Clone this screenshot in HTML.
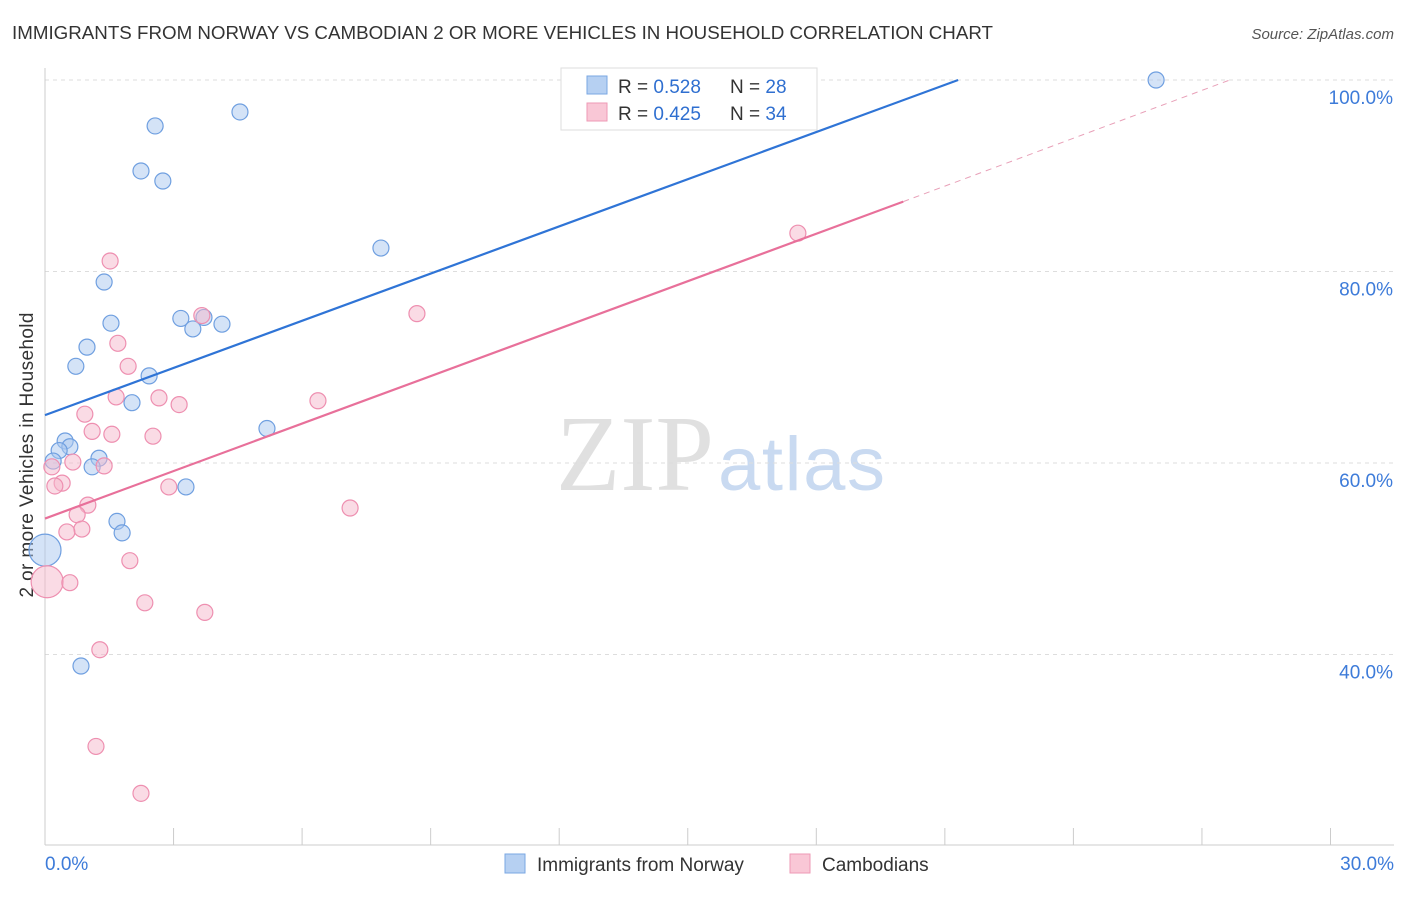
<!DOCTYPE html>
<html><head><meta charset="utf-8"><style>
body{margin:0;background:#fff;font-family:"Liberation Sans",sans-serif}
#c{position:relative;width:1406px;height:892px}
</style></head><body>
<div id="c">
<svg id="s" width="1406" height="892">
<text x="12" y="39" font-size="18" fill="#333" textLength="981" lengthAdjust="spacingAndGlyphs">IMMIGRANTS FROM NORWAY VS CAMBODIAN 2 OR MORE VEHICLES IN HOUSEHOLD CORRELATION CHART</text>
<text x="1394" y="39" font-size="15" fill="#555" font-style="italic" text-anchor="end">Source: ZipAtlas.com</text>
<text x="33" y="455" font-size="19" fill="#333" text-anchor="middle" transform="rotate(-90 33 455)" textLength="285">2 or more Vehicles in Household</text>
<text x="714" y="490" font-size="108" fill="#e0e0e0" text-anchor="end" font-family="Liberation Serif,serif" textLength="158" lengthAdjust="spacingAndGlyphs">ZIP</text>
<text x="718" y="490" font-size="76" fill="#c9daf1" textLength="167">atlas</text>
<g id="grid"></g><g id="marks"></g>
<g>
<rect x="561" y="68" width="256" height="62" fill="#fff" stroke="#ddd"/>
<rect x="587" y="76" width="20" height="18" fill="#b6d0f2" stroke="#7aa7e3"/>
<text x="618" y="93" font-size="19" fill="#333">R = <tspan fill="#2f6fd0">0.528</tspan></text>
<text x="730" y="93" font-size="19" fill="#333">N = <tspan fill="#2f6fd0">28</tspan></text>
<rect x="587" y="103" width="20" height="18" fill="#f9c7d6" stroke="#ee9ab5"/>
<text x="618" y="120" font-size="19" fill="#333">R = <tspan fill="#2f6fd0">0.425</tspan></text>
<text x="730" y="120" font-size="19" fill="#333">N = <tspan fill="#2f6fd0">34</tspan></text>
</g>
<g>
<rect x="505" y="854" width="20" height="19" fill="#b6d0f2" stroke="#7aa7e3"/>
<text x="537" y="871" font-size="19" fill="#333">Immigrants from Norway</text>
<rect x="790" y="854" width="20" height="19" fill="#f9c7d6" stroke="#ee9ab5"/>
<text x="822" y="871" font-size="19" fill="#333">Cambodians</text>
</g>
<text x="45" y="870" font-size="19" fill="#3d7bd9">0.0%</text>
<text x="1394" y="870" font-size="19" fill="#3d7bd9" text-anchor="end">30.0%</text>
</svg></div>
<script>
const blueX=[25.93,4.55,2.57,2.24,2.75,7.84,1.38,1.54,3.17,3.71,4.13,3.45,0.98,0.72,2.43,2.03,5.18,0.47,0.58,0.33,0.19,1.26,1.10,3.29,1.68,1.80,0,0.84];
const blueY=[100,96.66,95.2,90.5,89.45,82.45,78.9,74.6,75.1,75.2,74.5,74.0,72.1,70.1,69.1,66.3,63.6,62.3,61.7,61.3,60.2,60.5,59.6,57.5,53.9,52.7,50.9,38.8];
const pinkX=[17.57,1.52,8.68,3.66,1.70,1.94,2.66,3.13,1.66,6.37,0.93,1.10,1.56,2.52,0.65,1.38,0.16,0.40,0.23,2.89,1.00,0.75,7.12,0.86,0.51,1.98,0.05,0.58,2.33,3.73,1.28,1.19,2.24];
const pinkY=[84.0,81.1,75.6,75.4,72.5,70.1,66.8,66.1,66.9,66.5,65.1,63.3,63.0,62.8,60.1,59.7,59.6,57.9,57.6,57.5,55.6,54.6,55.3,53.1,52.8,49.8,47.6,47.5,45.4,44.4,40.5,30.4,25.5];
const yTicks=[100,80,60,40];
const blueLine=[[0,65.0],[21.31,100]];
const pinkLine=[[0,54.2],[20.03,87.3]];
const pinkDash=[[20.03,87.3],[27.65,100]];
const X=v=>45+v*42.85, Y=v=>80+(100-v)*9.575;
const NS="http://www.w3.org/2000/svg";
function mk(t,a,p){const e=document.createElementNS(NS,t);for(const k in a)e.setAttribute(k,a[k]);p.appendChild(e);return e;}
const g=document.getElementById('grid'), m=document.getElementById('marks');
yTicks.forEach(t=>{
 const l=mk('line',{x1:45,x2:1394,y1:Y(t),y2:Y(t),stroke:'#ddd','stroke-dasharray':'4,4'},g);
 
 
 const tx=mk('text',{x:1393,y:Y(t)+24,'font-size':19,fill:'#3d7bd9','text-anchor':'end'},g);
 tx.textContent=t.toFixed(1)+'%';
 
 
});
mk('line',{x1:45,x2:45,y1:68,y2:845,stroke:'#ccc'},g);
mk('line',{x1:45,x2:1394,y1:845,y2:845,stroke:'#ccc'},g);
for(let i=0;i<=10;i++){const t=mk('line',{x1:X(i*3),x2:X(i*3),y1:828,y2:845,stroke:'#ccc'},g);
 
 }
function pts(xs,ys,fill,stroke,name){xs.forEach((x,i)=>{
 const big=x===0||x===0.05;
 const c=mk('circle',{cx:X(x),cy:Y(ys[i]),r:big?16:8,fill:fill,'fill-opacity':0.5,stroke:stroke,'stroke-width':1.2},m);
 
 });}
pts(blueX,blueY,'#a9c8f0','#6f9fe0','norway-point');
pts(pinkX,pinkY,'#f6b8cb','#ee8fb0','cambodian-point');
function ln(d,col,dash,name){const l=mk('line',{x1:X(d[0][0]),y1:Y(d[0][1]),x2:X(d[1][0]),y2:Y(d[1][1]),stroke:col,'stroke-width':dash?1:2.2,'stroke-dasharray':dash||'none'},m);
 
 }
ln(blueLine,'#2f74d6',null,'norway-trend-line');
ln(pinkLine,'#e8709a',null,'cambodian-trend-line');
ln(pinkDash,'#e8a0b8','6,5','cambodian-trend-extension');
</script>
</body></html>
